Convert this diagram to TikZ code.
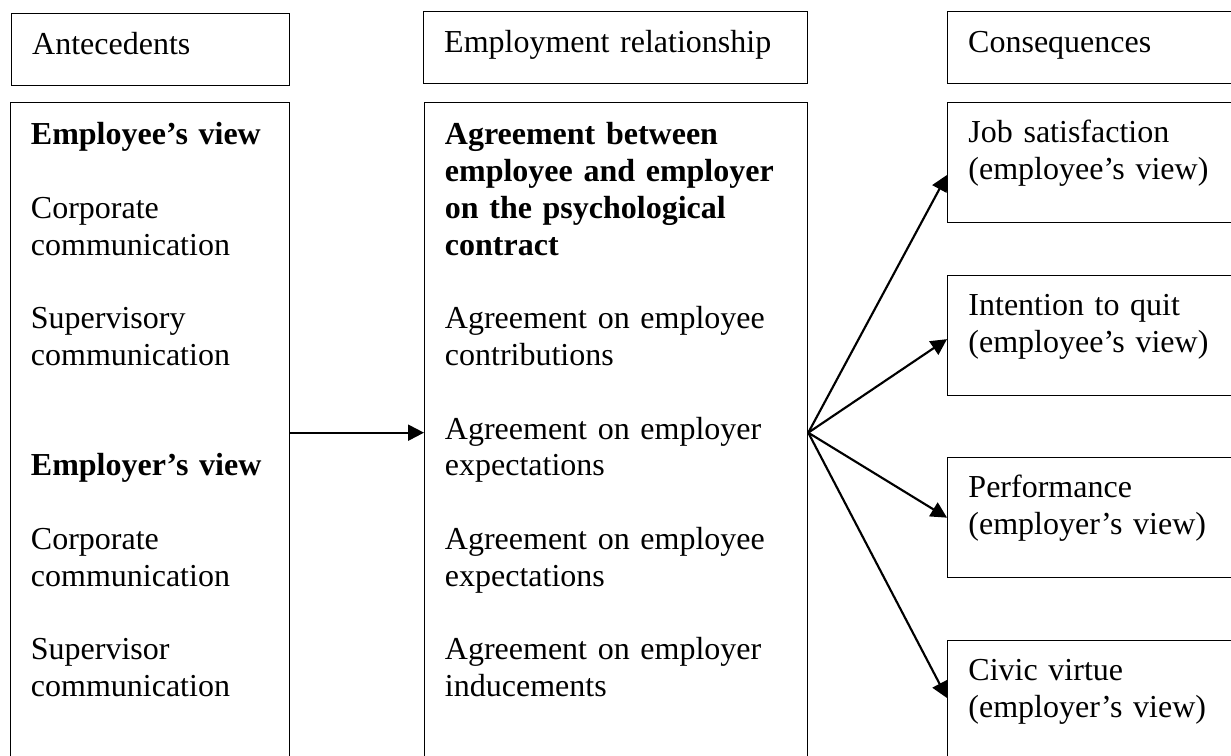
\documentclass[tikz,border=0pt]{standalone}
\usepackage{fontspec}
\setmainfont{Liberation Serif}
\usepackage{tikz}
\usetikzlibrary{
    arrows.meta,
    positioning
}
\tikzset{
    headbox/.style = {rectangle, draw=black, line width=0.5pt, align=left,
                      inner xsep=7.7pt, inner ysep=0pt,
                      text height=15.2pt, text depth=11.8pt, anchor=north west},
    colbox/.style  = {rectangle, draw=black, line width=0.5pt, align=left,
                      inner xsep=7.6pt, inner ysep=0pt,
                      text height=15.75pt, text depth=231.75pt, anchor=north west},
    outbox/.style  = {rectangle, draw=black, line width=0.5pt, align=left,
                      inner xsep=7.8pt, inner ysep=0pt, text width=101.8pt,
                      text height=15pt, text depth=30pt, anchor=north west},
    arrow/.style   = {-{Triangle[length=6pt, width=6pt]}, line width=0.8pt}
}

\begin{document}
\begin{tikzpicture}[
    x=0.375pt, y=-0.375pt,
    every node/.append style = {font=\fontsize{12pt}{13.8pt}\selectfont}
]
\useasboundingbox (0,0) rectangle (1231,755);

% ===== Column headings =====
\node[headbox, text width=88.9pt]  (antec)  at (11,13)  {Antecedents};
\node[headbox, text width=128.6pt] (emprel) at (423,11) {Employment relationship};
\node[headbox, text width=102pt]   (conseq) at (947,11) {Consequences};

% ===== Antecedents (left) =====
\node[colbox, text width=89.4pt] (antbox) at (10,102) {%
   \textbf{Employee's view}\\[13.8pt]
   Corporate\\ communication\\[13.8pt]
   Supervisory\\ communication\\[27.6pt]
   \textbf{Employer's view}\\[13.8pt]
   Corporate\\ communication\\[13.8pt]
   Supervisor\\ communication};

% ===== Employment relationship (middle) =====
\node[colbox, text width=128.4pt] (agree) at (424,102) {%
   \textbf{Agreement between}\\
   \textbf{employee and employer}\\
   \textbf{on the psychological}\\
   \textbf{contract}\\[13.8pt]
   Agreement on employee\\ contributions\\[13.8pt]
   Agreement on employer\\ expectations\\[13.8pt]
   Agreement on employee\\ expectations\\[13.8pt]
   Agreement on employer\\ inducements};

% ===== Consequences (right) =====
\node[outbox] (jobsat) at (947,102) {Job satisfaction\\ (employee's view)};
\node[outbox] (quit)   at (947,275) {Intention to quit\\ (employee's view)};
\node[outbox] (perf)   at (947,457) {Performance\\ (employer's view)};
\node[outbox] (civic)  at (947,640) {Civic virtue\\ (employer's view)};

% ===== Arrows =====
\draw[arrow] (antbox.east) -- (agree.west);
\draw[arrow] (agree.east) -- ([yshift=-4.6pt]jobsat.west);
\draw[arrow] (agree.east) -- ([yshift=-1.3pt]quit.west);
\draw[arrow] (agree.east) -- (perf.west);
\draw[arrow] (agree.east) -- ([yshift=1pt]civic.west);

\end{tikzpicture}
\end{document}
